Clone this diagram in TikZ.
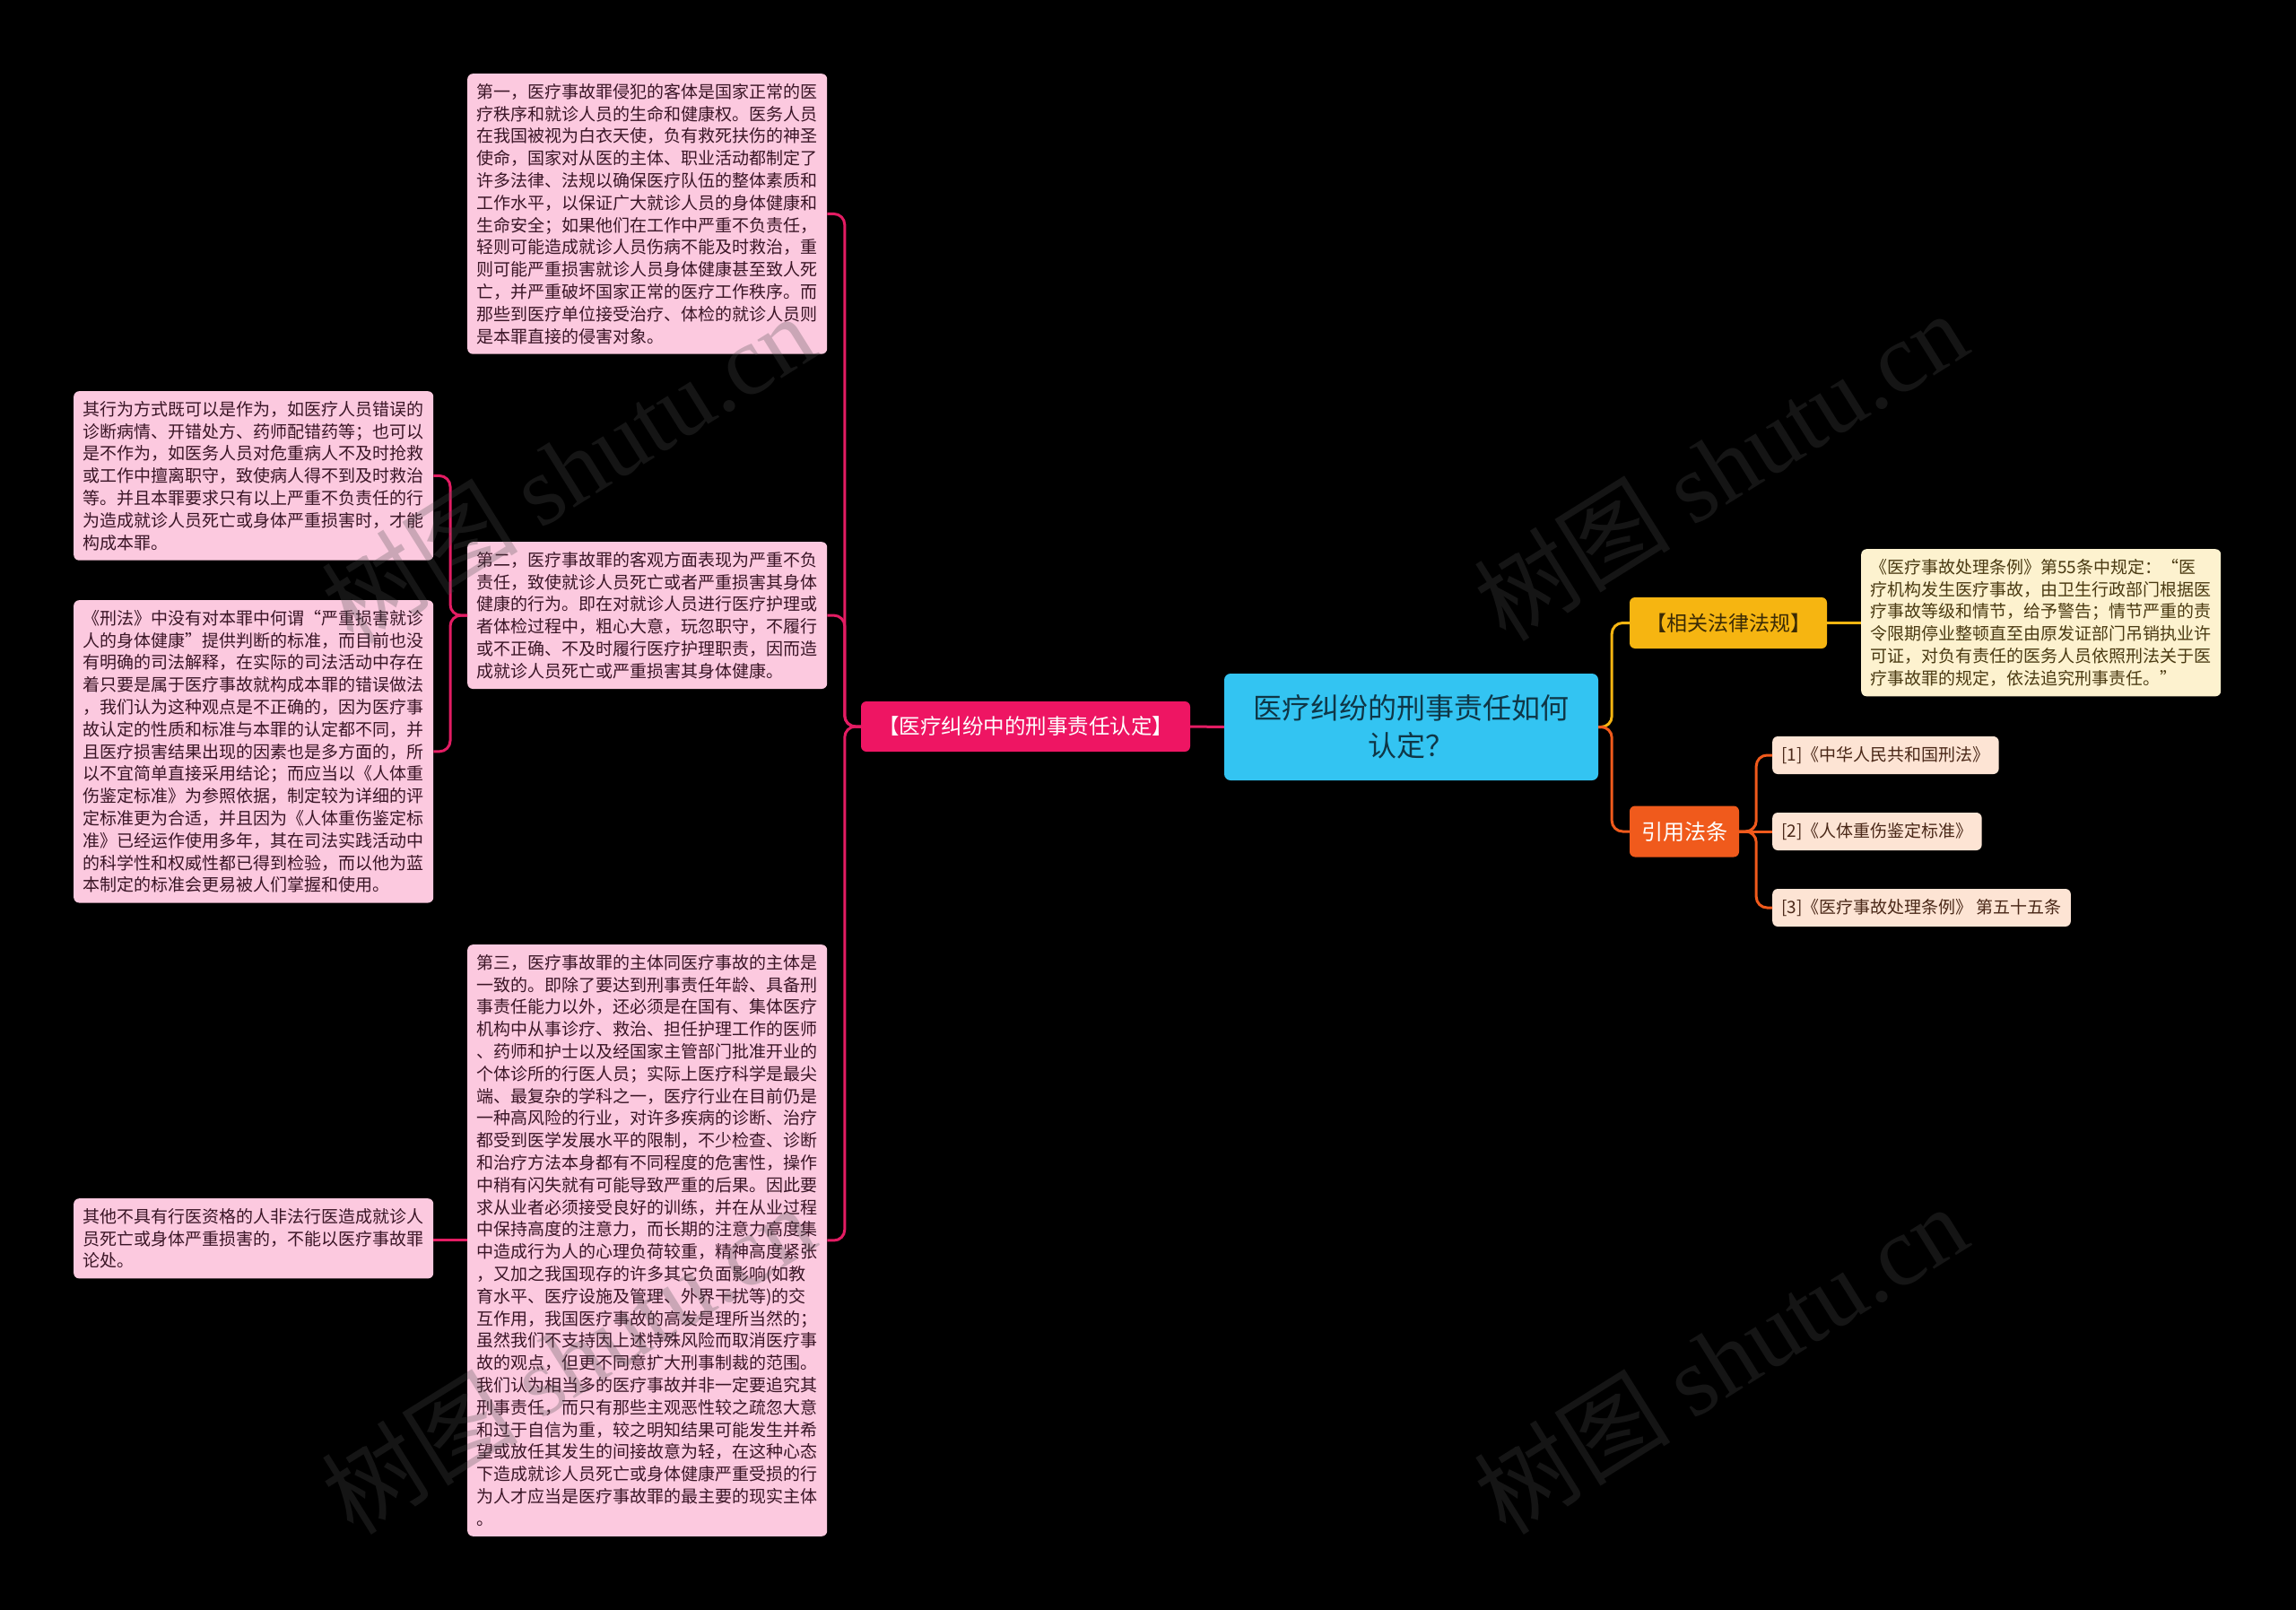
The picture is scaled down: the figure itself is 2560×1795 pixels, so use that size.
\documentclass[tikz,border=0pt]{standalone}
\usepackage{fontspec}
\setmainfont{Noto Sans CJK SC}
\newfontfamily\wmserif{Liberation Serif}
\definecolor{pinkfill}{HTML}{FCC9DF}
\definecolor{pinktext}{HTML}{3A1526}
\definecolor{pinkline}{HTML}{E31C63}
\definecolor{mainpink}{HTML}{EE1563}
\definecolor{centerfill}{HTML}{33C4F2}
\definecolor{centertext}{HTML}{0F3646}
\definecolor{amberc}{HTML}{F6B511}
\definecolor{ambertext}{HTML}{3A2A05}
\definecolor{orangec}{HTML}{F05A1C}
\definecolor{lawfill}{HTML}{FDF2CF}
\definecolor{lawtext}{HTML}{4A3A12}
\definecolor{reffill}{HTML}{FDE4D4}
\definecolor{reftext}{HTML}{4A2818}
\begin{document}
\begin{tikzpicture}[x=1pt,y=-1pt,
  textbox/.style={anchor=north west, rounded corners=6pt, text width=381pt, inner xsep=10pt, inner ysep=11pt, align=left, font=\fontsize{19}{24.8}\selectfont},
  pinkbox/.style={textbox, fill=pinkfill, text=pinktext},
  lawbox/.style={textbox, fill=lawfill, text=lawtext},
  mainbox/.style={fill=mainpink, text=white, rounded corners=6pt, minimum width=367pt, minimum height=56pt, inner sep=0pt, font=\fontsize{23.5}{28}\selectfont},
  centerbox/.style={fill=centerfill, text=centertext, rounded corners=7pt, minimum width=417pt, minimum height=119pt, inner sep=0pt, align=center, font=\fontsize{32}{42}\selectfont},
  relbox/.style={fill=amberc, text=ambertext, rounded corners=6pt, minimum width=220pt, minimum height=57pt, inner sep=0pt, font=\fontsize{23}{28}\selectfont},
  citebox/.style={fill=orangec, text=white, rounded corners=6pt, minimum width=122pt, minimum height=57pt, inner sep=0pt, font=\fontsize{24}{28}\selectfont},
  refbox/.style={anchor=west, fill=reffill, text=reftext, rounded corners=6pt, minimum height=42pt, inner xsep=10pt, inner ysep=0pt, font=\fontsize{19}{24}\selectfont},
  pinkedge/.style={draw=pinkline, line width=3pt, rounded corners=12pt},
  amberedge/.style={draw=amberc, line width=3pt, rounded corners=12pt},
  orangeedge/.style={draw=orangec, line width=3pt, rounded corners=12pt},
  wm/.style={text=gray!60!black, text opacity=0.28, font=\fontsize{110}{120}\selectfont, rotate=32, inner sep=0pt}
]
\fill[black] (0,0) rectangle (2560,1795);
\useasboundingbox (0,0) rectangle (2560,1795);

% central and first level
\node[centerbox] (center) at (1573.5,810.5) {医疗纠纷的刑事责任如何\\认定？};
\node[mainbox] (main) at (1143.5,810) {【医疗纠纷中的刑事责任认定】};
\node[relbox] (rel) at (1927,694.5) {【相关法律法规】};
\node[citebox] (cite) at (1878,927) {引用法条};

% right side details
\node[lawbox] (law) at (2075,612) {《医疗事故处理条例》第55条中规定：“医\\
疗机构发生医疗事故，由卫生行政部门根据医\\
疗事故等级和情节，给予警告；情节严重的责\\
令限期停业整顿直至由原发证部门吊销执业许\\
可证，对负有责任的医务人员依照刑法关于医\\
疗事故罪的规定，依法追究刑事责任。”};
\node[refbox] (r1) at (1976,842) {[1]《中华人民共和国刑法》};
\node[refbox] (r2) at (1976,927) {[2]《人体重伤鉴定标准》};
\node[refbox] (r3) at (1976,1012) {[3]《医疗事故处理条例》 第五十五条};

% left side
\node[pinkbox] (n1) at (521,82) {第一，医疗事故罪侵犯的客体是国家正常的医\\
疗秩序和就诊人员的生命和健康权。医务人员\\
在我国被视为白衣天使，负有救死扶伤的神圣\\
使命，国家对从医的主体、职业活动都制定了\\
许多法律、法规以确保医疗队伍的整体素质和\\
工作水平，以保证广大就诊人员的身体健康和\\
生命安全；如果他们在工作中严重不负责任，\\
轻则可能造成就诊人员伤病不能及时救治，重\\
则可能严重损害就诊人员身体健康甚至致人死\\
亡，并严重破坏国家正常的医疗工作秩序。而\\
那些到医疗单位接受治疗、体检的就诊人员则\\
是本罪直接的侵害对象。};
\node[pinkbox] (n2) at (521,604) {第二，医疗事故罪的客观方面表现为严重不负\\
责任，致使就诊人员死亡或者严重损害其身体\\
健康的行为。即在对就诊人员进行医疗护理或\\
者体检过程中，粗心大意，玩忽职守，不履行\\
或不正确、不及时履行医疗护理职责，因而造\\
成就诊人员死亡或严重损害其身体健康。};
\node[pinkbox] (n3) at (521,1053) {第三，医疗事故罪的主体同医疗事故的主体是\\
一致的。即除了要达到刑事责任年龄、具备刑\\
事责任能力以外，还必须是在国有、集体医疗\\
机构中从事诊疗、救治、担任护理工作的医师\\
、药师和护士以及经国家主管部门批准开业的\\
个体诊所的行医人员；实际上医疗科学是最尖\\
端、最复杂的学科之一，医疗行业在目前仍是\\
一种高风险的行业，对许多疾病的诊断、治疗\\
都受到医学发展水平的限制，不少检查、诊断\\
和治疗方法本身都有不同程度的危害性，操作\\
中稍有闪失就有可能导致严重的后果。因此要\\
求从业者必须接受良好的训练，并在从业过程\\
中保持高度的注意力，而长期的注意力高度集\\
中造成行为人的心理负荷较重，精神高度紧张\\
，又加之我国现存的许多其它负面影响(如教\\
育水平、医疗设施及管理、外界干扰等)的交\\
互作用，我国医疗事故的高发是理所当然的；\\
虽然我们不支持因上述特殊风险而取消医疗事\\
故的观点，但更不同意扩大刑事制裁的范围。\\
我们认为相当多的医疗事故并非一定要追究其\\
刑事责任，而只有那些主观恶性较之疏忽大意\\
和过于自信为重，较之明知结果可能发生并希\\
望或放任其发生的间接故意为轻，在这种心态\\
下造成就诊人员死亡或身体健康严重受损的行\\
为人才应当是医疗事故罪的最主要的现实主体\\
。\vphantom{国}};
\node[pinkbox] (n2a) at (82,436) {其行为方式既可以是作为，如医疗人员错误的\\
诊断病情、开错处方、药师配错药等；也可以\\
是不作为，如医务人员对危重病人不及时抢救\\
或工作中擅离职守，致使病人得不到及时救治\\
等。并且本罪要求只有以上严重不负责任的行\\
为造成就诊人员死亡或身体严重损害时，才能\\
构成本罪。};
\node[pinkbox] (n2b) at (82,669) {《刑法》中没有对本罪中何谓“严重损害就诊\\
人的身体健康”提供判断的标准，而目前也没\\
有明确的司法解释，在实际的司法活动中存在\\
着只要是属于医疗事故就构成本罪的错误做法\\
，我们认为这种观点是不正确的，因为医疗事\\
故认定的性质和标准与本罪的认定都不同，并\\
且医疗损害结果出现的因素也是多方面的，所\\
以不宜简单直接采用结论；而应当以《人体重\\
伤鉴定标准》为参照依据，制定较为详细的评\\
定标准更为合适，并且因为《人体重伤鉴定标\\
准》已经运作使用多年，其在司法实践活动中\\
的科学性和权威性都已得到检验，而以他为蓝\\
本制定的标准会更易被人们掌握和使用。};
\node[pinkbox] (n3a) at (82,1336) {其他不具有行医资格的人非法行医造成就诊人\\
员死亡或身体严重损害的，不能以医疗事故罪\\
论处。};

% connectors left
\draw[pinkedge] (center.west) -- (main.east);
\draw[pinkedge] (main.west) -- ++(-18,0) |- (n1.east);
\draw[pinkedge] (main.west) -- ++(-18,0) |- (n2.east);
\draw[pinkedge] (main.west) -- ++(-18,0) |- (n3.east);
\draw[pinkedge] (n2.west) -- ++(-19,0) |- (n2a.east);
\draw[pinkedge] (n2.west) -- ++(-19,0) |- (n2b.east);
\draw[pinkedge] (n3.west) -- (n3.west -| n3a.east);

% connectors right
\draw[amberedge] (center.east) -- ++(15,0) |- (rel.west);
\draw[orangeedge] (center.east) -- ++(15,0) |- (cite.west);
\draw[amberedge] (rel.east) -- (rel.east -| law.west);
\draw[orangeedge] (cite.east) -- ++(19,0) |- (r1.west);
\draw[orangeedge] (cite.east) -- (cite.east -| r2.west);
\draw[orangeedge] (cite.east) -- ++(19,0) |- (r3.west);

% watermarks
\node[wm] (wm1) at (633,522) {树图 {\wmserif shutu.cn}};
\node[wm] (wm2) at (1918,519) {树图 {\wmserif shutu.cn}};
\node[wm] (wm3) at (633,1515) {树图 {\wmserif shutu.cn}};
\node[wm] (wm4) at (1918,1515) {树图 {\wmserif shutu.cn}};
\end{tikzpicture}
\end{document}
